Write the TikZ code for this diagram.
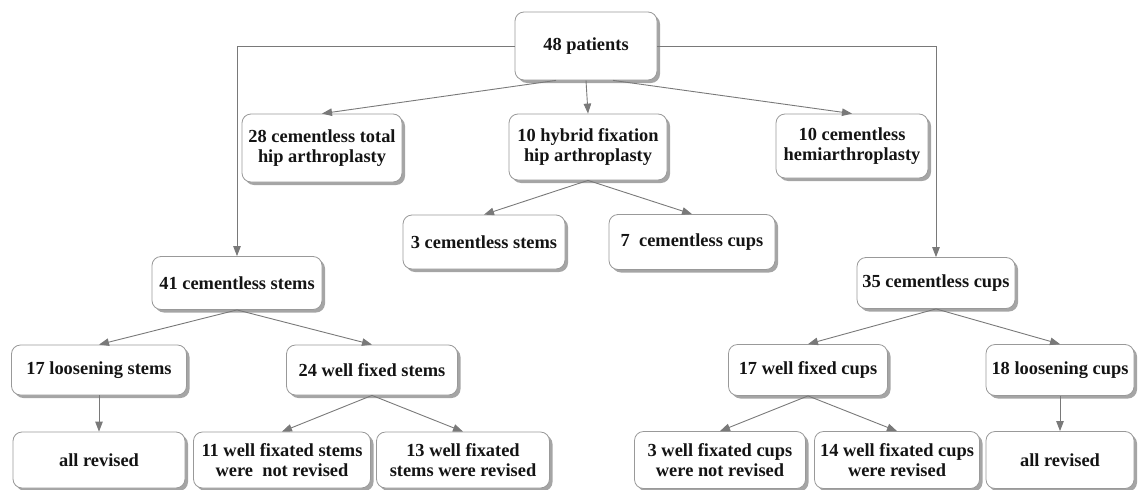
\documentclass[tikz,border=0pt]{standalone}
\usepackage{fontspec}
\setmainfont{Liberation Serif}
\usetikzlibrary{shadows,arrows.meta}

\begin{document}
\begin{tikzpicture}[x=1pt, y=-1pt,
  box/.style={draw=gray!80, line width=0.8pt, rounded corners=9pt, fill=white,
    drop shadow={shadow xshift=3pt, shadow yshift=-3pt, fill=black!70},
    align=center, inner sep=0pt, text=black!92,
    font=\fontsize{18.4}{20.5}\selectfont\bfseries},
  link/.style={draw=gray!95!black, line width=0.9pt,
    -{Triangle[length=10pt, width=7.5pt]}}]

  \useasboundingbox (0,0) rectangle (1138,490);

  % top
  \node[box, minimum width=142pt, minimum height=68pt] (pat) at (586,46) {48 patients};

  % groups
  \node[box, minimum width=160pt, minimum height=68pt] (cth) at (322,148)
    {28 cementless total\\hip arthroplasty};
  \node[box, minimum width=158pt, minimum height=66pt] (hyb) at (588,147)
    {10 hybrid fixation\\hip arthroplasty};
  \node[box, minimum width=152pt, minimum height=64pt] (hemi) at (852,146)
    {10 cementless\\hemiarthroplasty};

  \node[box, minimum width=162pt, minimum height=54pt] (cs3) at (484,242) {3 cementless stems};
  \node[box, minimum width=166pt, minimum height=55pt] (cc7) at (692,242) {7~~cementless cups};

  % stems and cups
  \node[box, minimum width=170pt, minimum height=53pt] (st41) at (237,283) {41 cementless stems};
  \node[box, minimum width=158pt, minimum height=51pt] (cu35) at (936,283) {35 cementless cups};

  \node[box, minimum width=175pt, minimum height=50pt] (ls17) at (99,370) {17 loosening stems};
  \node[box, minimum width=171pt, minimum height=50pt] (wfs24) at (372,370) {24 well fixed stems};
  \node[box, minimum width=159pt, minimum height=51pt] (wfc17) at (808,370) {17 well fixed cups};
  \node[box, minimum width=148pt, minimum height=51pt] (lc18) at (1060,370) {18 loosening cups};

  % outcome
  \node[box, minimum width=172pt, minimum height=56pt] (revL) at (99,460) {all revised};
  \node[box, minimum width=177pt, minimum height=56pt] (nrs11) at (282,460)
    {11 well fixated stems\\were~~not revised};
  \node[box, minimum width=173pt, minimum height=56pt] (rs13) at (463,460)
    {13 well fixated\\stems were revised};
  \node[box, minimum width=171pt, minimum height=57pt] (nrc3) at (720,460)
    {3 well fixated cups\\were not revised};
  \node[box, minimum width=165pt, minimum height=57pt] (rc14) at (897,460)
    {14 well fixated cups\\were revised};
  \node[box, minimum width=148pt, minimum height=57pt] (revR) at (1060,460) {all revised};

  % connectors
  \draw[link] ([xshift=-30pt]pat.south) -- (cth.north);
  \draw[link] (pat.south) -- (hyb.north);
  \draw[link] ([xshift=27pt]pat.south) -- (hemi.north);
  \draw[link] (pat.west) -| (st41.north);
  \draw[link] (pat.east) -| (cu35.north);

  \draw[link] (hyb.south) -- (cs3.north);
  \draw[link] (hyb.south) -- (cc7.north);

  \draw[link] (st41.south) -- (ls17.north);
  \draw[link] (st41.south) -- (wfs24.north);
  \draw[link] (ls17.south) -- (revL.north);
  \draw[link] (wfs24.south) -- (nrs11.north);
  \draw[link] (wfs24.south) -- (rs13.north);

  \draw[link] (cu35.south) -- (wfc17.north);
  \draw[link] (cu35.south) -- (lc18.north);
  \draw[link] (wfc17.south) -- (nrc3.north);
  \draw[link] (wfc17.south) -- (rc14.north);
  \draw[link] (lc18.south) -- (revR.north);

\end{tikzpicture}
\end{document}
